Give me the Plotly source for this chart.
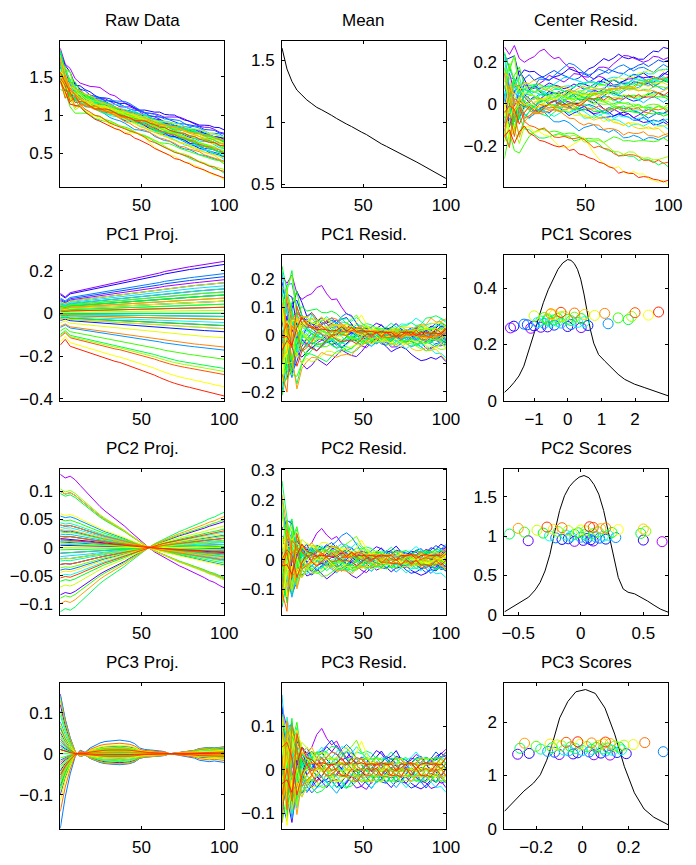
import colorsys
import numpy as np
import plotly.graph_objects as go

# ---------------- data (read / estimated from the reference) ----------------
t_grid = [1, 4, 7, 10, 13, 16, 19, 22, 25, 28, 31, 34, 37, 40, 43, 46, 49, 52, 55, 58,
          61, 64, 67, 70, 73, 76, 79, 82, 85, 88, 91, 94, 97, 100]

mean_curve = [1.60, 1.43, 1.33, 1.26, 1.22, 1.18, 1.15, 1.12, 1.10, 1.08,
              1.055, 1.03, 1.005, 0.985, 0.965, 0.94, 0.92, 0.90, 0.875, 0.845,
              0.825, 0.805, 0.785, 0.765, 0.745, 0.722, 0.70, 0.68, 0.658, 0.636,
              0.615, 0.594, 0.57, 0.545]

load_pc1 = [-0.055, -0.045, -0.057, -0.060, -0.063, -0.066, -0.069, -0.072, -0.075, -0.078,
            -0.080, -0.083, -0.085, -0.088, -0.091, -0.094, -0.097, -0.100, -0.103, -0.107,
            -0.111, -0.115, -0.118, -0.121, -0.124, -0.126, -0.128, -0.130, -0.132, -0.134,
            -0.136, -0.138, -0.140, -0.143]

load_pc2 = [0.20, 0.19, 0.195, 0.185, 0.17, 0.155, 0.14, 0.125, 0.112, 0.10,
            0.09, 0.08, 0.07, 0.058, 0.045, 0.033, 0.022, 0.008, -0.002, -0.012,
            -0.02, -0.028, -0.035, -0.042, -0.05, -0.056, -0.062, -0.07, -0.075, -0.082,
            -0.09, -0.095, -0.103, -0.11]

load_pc3 = [-0.52, -0.30, -0.14, -0.02, 0.025, 0.01, 0.04, 0.06, 0.075, 0.085,
            0.09, 0.095, 0.095, 0.09, 0.085, 0.07, 0.04, 0.03, 0.028, 0.025,
            0.02, 0.015, 0.0, -0.005, -0.01, -0.02, -0.025, -0.03, -0.045, -0.05,
            -0.055, -0.05, -0.055, -0.06]

scores_pc1 = [-1.1, -1.7, 0.4, -0.8, -0.6, 0.0, -1.6, -1.0, 0.6, -0.4, -1.2, 0.1,
              -1.3, 1.2, -0.7, -0.2, -0.9, 0.3, -0.5, 0.5, -0.3, -0.8, 0.1, -0.6,
              -0.4, 1.8, 0.0, -0.6, 0.4, -0.3, 1.5, -0.7, 0.2, -0.2, 1.9, -0.1,
              -1.0, 0.8, 2.4, -0.4, 0.5, -0.5, -0.5, 1.1, 0.2, 2.0, -0.2, 2.7]

scores_pc2 = [0.65, -0.05, 0.1, -0.42, 0.02, 0.5, 0.08, -0.15, 0.2, -0.1, 0.05, 0.15,
              -0.2, 0.28, 0.0, 0.12, -0.08, 0.18, -0.25, 0.06, 0.22, -0.12, 0.03, -0.05,
              -0.57, 0.1, 0.48, -0.3, -0.02, 0.25, -0.45, 0.14, -0.18, 0.52, 0.04, -0.1,
              -0.35, 0.0, 0.3, -0.22, 0.5, 0.16, -0.5, 0.2, -0.15, 0.1, -0.27, 0.07]

scores_pc3 = [0.12, 0.05, -0.1, -0.28, -0.04, 0.19, -0.23, 0.08, -0.02, 0.15, -0.12, 0.03,
              0.35, -0.15, 0.1, -0.06, 0.0, 0.13, -0.08, 0.17, 0.04, -0.18, 0.09, -0.03,
              -0.27, 0.11, -0.13, 0.06, 0.16, -0.05, 0.02, -0.2, 0.14, -0.09, 0.07, 0.18,
              -0.11, 0.22, -0.01, -0.14, 0.09, 0.12, -0.25, 0.04, 0.27, -0.07, 0.1, -0.02]

# residuals after 3 PCs, in thousandths
resid_pc3_thousandths = [
    [142, 97, 104, 31, 14, 38, 52, 81, 95, 72, 57, 66, 43, 27, 31, 12, -4, -17, 3, 18, 11, -6, -19, -13, 4, 17, 22, 35, 29, 13, 18, 31, 36, 47],
    [-48, 93, -27, -63, -9, -28, -41, -24, -16, 3, -12, -29, -43, -31, -14, -22, -38, -45, -27, -11, -17, -30, -12, 2, 16, 11, -3, -18, -29, -24, -8, -15, -31, -26],
    [117, 44, -23, 58, 53, 37, 16, 2, 13, 29, 41, 56, 38, 24, 11, 17, 28, 9, -4, 3, 15, 31, 24, 12, -2, 6, -13, 1, 17, 29, 22, 8, 14, 27],
    [-87, -38, -82, 17, -23, -52, -36, -14, -27, -41, -26, -9, 4, -13, -29, -42, -38, -24, -11, -28, -22, -7, 6, -15, -27, -31, -16, -12, -26, -30, -43, -39, -25, -41],
    [28, -63, -121, -37, -8, 24, 41, 27, 38, 53, 42, 35, 22, 28, 41, 26, 12, 17, 29, 44, 37, 21, 13, 9, -3, 14, 27, 23, 11, 16, -2, 12, 26, 15],
    [146, -79, 23, 68, 27, -12, 3, -16, -28, -22, -9, -14, 4, 17, 2, -13, 1, 16, 12, -4, -18, -29, -41, -26, -14, -17, -31, -39, -44, -36, -23, -28, -12, -27],
    [-17, 62, 88, 14, 52, 36, 41, 24, 9, -2, 13, 16, 28, 42, 27, 11, -3, 12, 17, 29, 43, 26, 31, 44, 23, 12, 16, 2, -4, 13, 27, 22, 39, 28],
    [63, -103, -46, -32, -54, -37, -23, -41, -26, -11, -27, -22, -43, -29, -13, 2, -4, -16, -31, -12, 3, -14, -11, -28, -24, -9, 4, -3, 6, -14, -17, -29, -13, 1],
    [-112, 23, 71, 87, 38, 14, -3, 26, 41, 23, 12, 16, 2, -14, 3, 17, 29, 24, 11, -2, 4, 13, 18, 31, 26, 22, 9, 14, 28, 12, -3, 2, 16, 4],
    [41, -27, -93, -71, -26, 3, 14, -2, -17, -29, -24, -41, -28, -12, 2, -4, -16, -31, -43, -27, -11, 3, -2, -14, -17, -32, -42, -37, -24, -13, 1, -5, -18, -29],
    [98, 72, 13, -24, 37, 52, 26, 38, 43, 56, 68, 51, 39, 24, 12, 16, 29, 14, -3, 12, 17, 28, 13, 2, -4, 11, 16, 27, 31, 14, 26, 41, 29, 33],
    [-72, -118, 42, 53, -14, -38, -53, -41, -26, -12, -17, 3, -2, -16, -29, -24, -11, 4, -3, -13, -28, -31, -14, 2, -4, 3, -12, -17, -28, -42, -27, -13, -16, 1],
    [22, 48, -62, -14, 13, -2, 4, 27, 14, -1, 16, 28, 47, 58, 46, 24, 12, -3, 3, 14, -2, -16, 2, 13, 17, 1, -14, -3, 2, -13, -27, -12, 3, -14],
    [-31, 82, 108, 42, 16, 27, 42, 24, 29, 13, -2, 4, 17, 12, -3, -16, 2, 14, 28, 13, 16, 11, 27, 14, -2, 3, 16, 12, -1, 14, 17, 12, 28, 41],
    [73, -18, -112, -52, -53, -38, -24, -12, -16, -27, -41, -54, -37, -26, -12, -17, -28, -13, -16, -29, -24, -12, -28, -41, -26, -13, -16, -11, 3, -2, 2, -14, -27, -13],
    [172, 33, 52, -81, 14, 11, 27, 41, 26, 12, 28, 14, -2, 13, 27, 24, 11, -3, 2, -4, 13, 16, 2, -14, 3, 15, 12, -2, -16, 1, 14, 3, -13, 2],
    [17, -72, 83, 61, 24, 39, 26, 12, -3, 14, 28, 41, 53, 49, 37, 24, 13, 16, 11, -2, 3, 14, 17, 12, 28, 13, 16, 11, 27, 14, 12, 26, 29, 24],
    [92, 104, -43, -88, -38, -13, -27, -41, -37, -24, -12, -16, -29, -42, -26, -13, -17, -28, -43, -27, -11, -14, -29, -13, -16, -12, -27, -14, -11, -16, -28, -41, -38, -52],
    [-83, -91, 24, 79, 51, 27, 23, 38, 52, 37, 24, 12, -3, 2, 14, 28, 23, 39, 26, 13, 16, -2, 3, 14, 27, 23, 28, 41, 26, 12, 16, 13, 28, 14],
    [53, 38, -72, 11, -37, -51, -26, -13, -16, -28, -42, -27, -12, 3, -2, -14, -29, -24, -12, 2, -13, -27, -14, -16, -28, -41, -27, -23, -29, -13, 2, -4, 3, 14],
    [-42, 121, 57, -31, 12, -3, 39, 26, 23, 41, 27, 22, 38, 42, 37, 53, 39, 26, 13, 16, 28, 23, 12, 16, -2, 13, 2, -4, 14, 27, 13, 16, 12, 28],
    [108, -52, 33, 97, 14, 27, 2, -13, -16, 3, 14, -2, -14, -17, -28, -13, 2, -3, 13, 16, 1, -14, -12, -16, -29, -13, 3, -2, -14, -28, -13, -16, -12, -27],
    [-63, 12, -101, -42, -62, -38, -13, 2, 14, -3, -27, -41, -37, -43, -26, -12, 3, -2, -14, -29, -24, -12, 2, -3, 4, -13, -16, -12, -14, 2, -13, -28, -24, -29],
    [-52, -12, 92, 23, 38, 26, 23, 12, -2, 14, 27, 24, 13, 16, 28, 41, 37, 43, 38, 26, 23, 28, 41, 27, 13, 16, 12, 27, 24, 29, 13, 16, 12, 27],
    [123, 61, -24, -72, 3, 27, 23, 12, -2, -14, 2, 13, 16, 1, -13, -16, -12, 3, -14, -17, 2, -3, 4, -13, 2, -4, 3, -14, -16, 1, -3, 2, -14, -28],
    [12, -112, 43, 31, -27, -23, -41, -53, -49, -37, -26, -12, -16, -13, -28, -14, 2, -3, 4, -2, -14, -17, -12, -28, -13, -16, -12, -27, -14, -11, -16, -29, -13, -27],
    [82, 28, 118, -13, 24, 13, 28, 41, 37, 43, 54, 51, 38, 26, 23, 12, 16, 28, 24, 29, 23, 12, 16, 27, 24, 28, 13, 26, 12, 16, 13, 28, 24, 12],
    [-122, -58, -32, 48, 2, -27, -13, 3, -2, 4, -14, -28, -24, -41, -37, -26, -23, -28, -24, -12, -16, -13, -27, -12, -16, -13, -11, 2, -3, 4, -13, -16, 2, -14],
    [41, 88, -78, -23, 37, 24, 2, -13, 3, 14, -2, 4, 16, 12, 13, -3, 2, 14, -2, 3, -4, 13, 27, 24, 12, 16, 13, 11, -2, 14, 12, 16, 3, 13],
    [-12, -43, 62, 109, 26, 2, 27, 12, -3, -14, -17, 2, -4, -13, -16, 3, 14, 12, 16, 28, 13, -2, -14, 3, 14, 12, 16, 13, 11, 27, 24, 28, 13, 2],
    [-79, 23, -48, -62, -24, 13, 27, 41, 37, 24, 28, 23, 12, 16, 13, -2, -14, -12, -16, -13, -28, -12, 3, -2, -14, -12, -16, -13, -11, -14, -17, -12, 2, -13],
    [-68, 72, 13, -12, -52, -27, -23, -28, -41, -37, -24, -12, -16, 2, -3, -14, -12, -27, -13, -16, -12, -28, -24, -29, -13, -16, -12, -27, -23, -28, -14, -12, -16, -27],
    [58, -83, -62, 72, 38, 24, 41, 37, 23, 12, 16, 13, 28, 42, 53, 68, 41, 27, 13, 16, 12, 14, -2, 3, -4, 2, 3, -3, 2, 13, 16, 12, -2, 14],
    [-92, 42, 98, -38, -26, -12, -28, -13, 2, 14, -3, 4, -2, -14, -28, -24, -12, 3, -13, 2, -4, 3, -14, -2, 3, -3, 2, -4, -13, -16, -12, 3, -2, 4],
    [97, -32, -13, -82, 3, -27, -13, 2, 14, -2, -14, 3, -3, 2, 14, 12, -2, 4, 13, 27, 24, 12, -3, 2, -4, 13, 16, 2, -3, 4, -2, 3, 14, 28],
    [-53, 97, 72, 28, 63, 51, 38, 14, 12, 27, 23, 28, 13, -2, 3, 14, 27, 24, 28, 13, -3, 2, 14, 12, 27, 13, 16, 12, 28, 24, 27, 13, 26, 12],
    [128, -68, -43, 2, -38, -26, -41, -37, -24, -12, -16, -28, -24, -13, -16, -12, -27, -14, -28, -23, -29, -13, -16, -12, -27, -24, -28, -13, -16, -11, -27, -14, -28, -13],
    [-23, 18, 83, 58, 37, 52, 38, 24, 41, 37, 26, 12, 16, 13, -2, 3, 14, 12, 16, 13, -2, 14, 12, 3, -2, 13, 16, 12, 3, -2, 4, 13, 16, 28],
    [72, -128, -23, -48, -13, 2, -14, 3, -2, 4, -13, -27, -24, -12, 14, 38, 66, 37, 13, -2, -14, -12, -16, 3, -13, -16, 2, -3, 4, -14, -12, -16, 2, -13],
    [-78, 52, 43, 91, 52, 26, 13, 27, 23, 38, 24, 28, 41, 53, 37, 24, 12, 16, 13, 11, -2, 3, 14, 12, 16, 13, 11, -3, 14, 2, 13, 16, 12, -2],
    [118, 83, -92, -28, -63, -38, -13, -16, 3, -14, -27, -24, -12, 2, -3, -14, -28, -24, -29, -13, 2, -3, -14, -12, -16, 3, -13, -16, -12, 2, -4, 3, -14, -28],
    [-42, -53, 48, 22, 38, 36, 52, 27, 2, -3, 14, 12, 16, 2, -3, 13, 27, 14, 12, 16, 13, 11, 14, 28, 24, 13, 16, 12, 14, 11, 16, 2, 13, 27],
    [88, 32, -12, -103, -27, -13, 2, -3, 14, 2, -4, -14, -12, -16, -28, -13, -16, -12, 3, -14, -12, 2, -3, -13, -16, -12, -27, -14, -12, -16, 3, -13, -16, -12],
    [-121, 112, 23, 42, 27, 13, -2, 4, 14, 28, 41, 37, 24, 12, 16, 3, -2, 14, 12, 16, 2, 13, 16, 12, -3, 14, 12, 16, 28, 13, 16, 12, 27, 39],
    [33, -92, 102, 48, -38, -24, -13, 14, 2, -14, -12, 3, -13, -16, 2, -4, 3, -14, -12, 2, -13, -16, -12, 3, -14, 2, -3, 4, -13, -16, 2, -3, 4, -14],
    [-58, 3, -72, 83, 27, 13, 16, 12, 28, 14, -2, 3, 14, 12, 16, 28, 24, 12, -3, 14, 12, 16, 2, -3, 4, 13, 16, 12, -2, 3, -4, 13, 2, 14],
    [52, 63, 28, -58, -13, 14, -12, -28, -14, 2, 13, -3, -14, -12, -16, -28, -13, 3, -2, 4, -13, 2, -14, -12, -16, 3, -13, 2, -14, -12, -16, 2, -13, 3],
    [-32, -23, -52, 14, 52, 27, 23, 12, 16, 13, 11, 14, 27, 12, 26, 13, 16, 12, 14, 11, 16, 12, 13, -2, 14, 12, 16, 3, 13, 16, 12, 14, 11, 28],
]

# kernel density curves of the scores
dens_pc1_x = [-1.884, -1.739, -1.594, -1.449, -1.304, -1.159, -1.014, -0.87, -0.725, -0.58, -0.435,
              -0.29, -0.145, 0.0, 0.097, 0.193, 0.29, 0.386, 0.483, 0.58, 0.676, 0.773, 0.918,
              1.11, 1.304, 1.498, 1.691, 1.981, 2.271, 2.56, 2.99]
dens_pc1_y = [0.029, 0.045, 0.065, 0.088, 0.123, 0.175, 0.234, 0.293, 0.349, 0.395, 0.433,
              0.468, 0.491, 0.503, 0.50, 0.489, 0.468, 0.433, 0.38, 0.316, 0.252, 0.205, 0.164,
              0.14, 0.117, 0.094, 0.076, 0.059, 0.047, 0.035, 0.017]

dens_pc2_x = [-0.61, -0.547, -0.482, -0.416, -0.364, -0.325, -0.286, -0.247, -0.208, -0.169,
              -0.13, -0.091, -0.052, -0.013, 0.026, 0.066, 0.105, 0.144, 0.183, 0.222, 0.261,
              0.30, 0.339, 0.378, 0.43, 0.482, 0.534, 0.586, 0.638, 0.70]
dens_pc2_y = [0.035, 0.098, 0.16, 0.223, 0.315, 0.41, 0.556, 0.765, 1.056, 1.327,
              1.515, 1.631, 1.702, 1.752, 1.773, 1.744, 1.66, 1.535, 1.327, 1.056, 0.744,
              0.473, 0.327, 0.285, 0.265, 0.223, 0.173, 0.119, 0.069, 0.03]

dens_pc3_x = [-0.337, -0.295, -0.253, -0.211, -0.182, -0.154, -0.126, -0.098, -0.063, -0.028,
              0.014, 0.056, 0.098, 0.14, 0.182, 0.225, 0.267, 0.309, 0.372]
dens_pc3_y = [0.323, 0.519, 0.703, 0.855, 1.009, 1.284, 1.651, 2.079, 2.385, 2.569,
              2.611, 2.538, 2.262, 1.773, 1.161, 0.672, 0.367, 0.213, 0.07]

panel_titles = ["Raw Data", "Mean", "Center Resid.",
                "PC1 Proj.", "PC1 Resid.", "PC1 Scores",
                "PC2 Proj.", "PC2 Resid.", "PC2 Scores",
                "PC3 Proj.", "PC3 Resid.", "PC3 Scores"]

# ---------------- derived quantities ----------------
N = len(scores_pc1)
n_t = len(t_grid)
for row in resid_pc3_thousandths:
    if len(row) != n_t:
        raise ValueError("bad residual row length %d" % len(row))

T = np.array(t_grid, float)
M = np.array(mean_curve)
V1, V2, V3 = (np.array(v) for v in (load_pc1, load_pc2, load_pc3))
S1, S2, S3 = (np.array(s) for s in (scores_pc1, scores_pc2, scores_pc3))
R = np.array(resid_pc3_thousandths, float) / 1000.0

P1 = np.outer(S1, V1)
P2 = np.outer(S2, V2)
P3 = np.outer(S3, V3)
res3 = R
res2 = P3 + res3
res1 = P2 + res2
center = P1 + res1
raw = M[None, :] + center


def rainbow(i):
    h = (280.0 - 272.0 * i / (N - 1)) / 360.0
    r, g, b = colorsys.hsv_to_rgb(h, 1.0, 1.0)
    return "rgb(%d,%d,%d)" % (round(r * 255), round(g * 255), round(b * 255))


colors = [rainbow(i) for i in range(N)]

# ---------------- layout geometry ----------------
W, H = 696, 865
col_left = [58.7, 286.0, 514.0]
col_w = 168.0
row_top = [33.3, 252.0, 470.5, 689.0]
row_h = 149.0

FONT = dict(family="Liberation Sans, Arial, Helvetica, sans-serif", size=17, color="black")


def fmt(v):
    s = ("%g" % v)
    return s.replace("-", "\u2212")


curve_x = dict(range=[1, 100], ticks=[50, 100])
axes_spec = {
    1: (curve_x, dict(range=[0.07, 1.97], ticks=[0.5, 1, 1.5])),
    2: (curve_x, dict(range=[0.48, 1.66], ticks=[0.5, 1, 1.5])),
    3: (curve_x, dict(range=[-0.395, 0.30], ticks=[-0.4, -0.2, 0, 0.2])),
    4: (curve_x, dict(range=[-0.408, 0.274], ticks=[-0.4, -0.2, 0, 0.2])),
    5: (curve_x, dict(range=[-0.232, 0.286], ticks=[-0.2, -0.1, 0, 0.1, 0.2])),
    6: (dict(range=[-1.88, 2.99], ticks=[-1, 0, 1, 2]), dict(range=[0, 0.52], ticks=[0, 0.2, 0.4])),
    7: (curve_x, dict(range=[-0.119, 0.14], ticks=[-0.1, -0.05, 0, 0.05, 0.1])),
    8: (curve_x, dict(range=[-0.184, 0.304], ticks=[-0.1, 0, 0.1, 0.2, 0.3])),
    9: (dict(range=[-0.61, 0.70], ticks=[-0.5, 0, 0.5]), dict(range=[0, 1.86], ticks=[0, 0.5, 1, 1.5])),
    10: (curve_x, dict(range=[-0.182, 0.173], ticks=[-0.1, 0, 0.1])),
    11: (curve_x, dict(range=[-0.135, 0.20], ticks=[-0.1, 0, 0.1])),
    12: (dict(range=[-0.337, 0.372], ticks=[-0.2, 0, 0.2]), dict(range=[0, 2.74], ticks=[0, 1, 2])),
}


def axref(k):
    return ("x" if k == 1 else "x%d" % k), ("y" if k == 1 else "y%d" % k)


traces = []


def add_curves(k, Y):
    xa, ya = axref(k)
    for i in range(N):
        traces.append(go.Scatter(x=T, y=Y[i], mode="lines",
                                 line=dict(color=colors[i], width=1),
                                 xaxis=xa, yaxis=ya, hoverinfo="skip", showlegend=False))


def add_scores(k, S, dx, dy, lo, hi):
    xa, ya = axref(k)
    traces.append(go.Scatter(x=dx, y=dy, mode="lines", line=dict(color="black", width=1),
                             xaxis=xa, yaxis=ya, hoverinfo="skip", showlegend=False))
    heights = np.linspace(lo, hi, N)
    traces.append(go.Scatter(x=S, y=heights, mode="markers",
                             marker=dict(symbol="circle-open", size=10, color=colors,
                                         line=dict(width=1)),
                             xaxis=xa, yaxis=ya, hoverinfo="skip", showlegend=False))


add_curves(1, raw)
xa, ya = axref(2)
traces.append(go.Scatter(x=T, y=M, mode="lines", line=dict(color="black", width=1),
                         xaxis=xa, yaxis=ya, hoverinfo="skip", showlegend=False))
add_curves(3, center)
add_curves(4, P1)
add_curves(5, res1)
add_scores(6, S1, dens_pc1_x, dens_pc1_y, 0.258, 0.316)
add_curves(7, P2)
add_curves(8, res2)
add_scores(9, S2, dens_pc2_x, dens_pc2_y, 0.93, 1.12)
add_curves(10, P3)
add_curves(11, res3)
add_scores(12, S3, dens_pc3_x, dens_pc3_y, 1.38, 1.63)

fig = go.Figure(data=traces)

layout = dict(width=W, height=H, autosize=False,
              margin=dict(l=0, r=0, t=0, b=0, pad=0),
              paper_bgcolor="white", plot_bgcolor="white",
              font=FONT, showlegend=False, annotations=[])

for k in range(1, 13):
    r, c = divmod(k - 1, 3)
    x0 = col_left[c] / W
    x1 = (col_left[c] + col_w) / W
    y1 = 1 - row_top[r] / H
    y0 = 1 - (row_top[r] + row_h) / H
    xs, ys = axes_spec[k]
    common = dict(showline=True, linecolor="black", linewidth=1, mirror="allticks",
                  ticks="inside", ticklen=3, tickwidth=1, tickcolor="black",
                  showgrid=False, zeroline=False, tickfont=FONT, fixedrange=True,
                  ticklabelstandoff=3)
    xkey = "xaxis" if k == 1 else "xaxis%d" % k
    ykey = "yaxis" if k == 1 else "yaxis%d" % k
    xa, ya = axref(k)
    layout[xkey] = dict(domain=[x0, x1], anchor=ya, range=xs["range"],
                        tickmode="array", tickvals=xs["ticks"],
                        ticktext=[fmt(v) for v in xs["ticks"]], **common)
    layout[ykey] = dict(domain=[y0, y1], anchor=xa, range=ys["range"],
                        tickmode="array", tickvals=ys["ticks"],
                        ticktext=[fmt(v) for v in ys["ticks"]], **common)
    layout["annotations"].append(dict(text=panel_titles[k - 1], xref="paper", yref="paper",
                                      x=(x0 + x1) / 2, y=y1, yshift=9, xanchor="center",
                                      yanchor="bottom", showarrow=False, font=FONT))

fig.update_layout(**layout)
fig.write_html("out.html")
